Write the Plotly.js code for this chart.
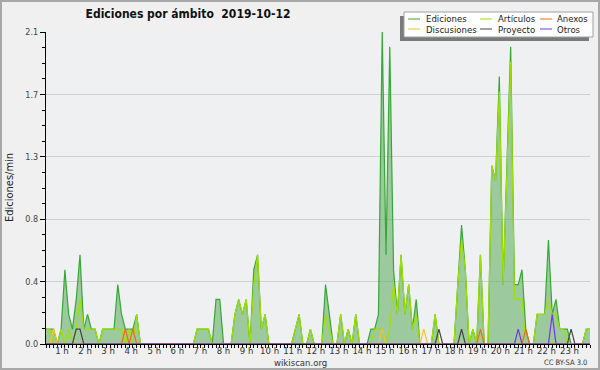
<!DOCTYPE html>
<html><head><meta charset="utf-8">
<script src="https://cdn.plot.ly/plotly-3.0.1.min.js"></script>
<style>html,body{margin:0;padding:0;background:#f0f0f0;}#chart{width:600px;height:370px;}</style>
</head><body><div id="chart"></div>
<script>
// 10-minute bins, values in edits per minute (00:00 .. 24:00)
const ediciones = [
  0.1,0.1,0.1,0,0.1,0.5,
  0.2,0.1,0.3,0.6,0.1,0.2,
  0.1,0.1,0,0.1,0.1,0.1,
  0.1,0.4,0.2,0.1,0.1,0.1,
  0.2,0,0,0,0,0,
  0,0,0,0,0,0,
  0,0,0,0,0.1,0.1,
  0.1,0.1,0,0.3,0.3,0,
  0,0,0.2,0.3,0.2,0.3,
  0,0.5,0.6,0.1,0.2,0,
  0,0,0,0,0,0,
  0.1,0.2,0,0,0.1,0,
  0,0,0.4,0.2,0,0,
  0.2,0,0.1,0,0.2,0,
  0,0,0.1,0.1,0.2,2.1,
  0.6,2.0,0.5,0.2,0.6,0.2,
  0.4,0.1,0.3,0,0,0,
  0,0.2,0,0,0,0,
  0,0.4,0.8,0.5,0,0.1,
  0,0.6,0,0,1.2,1.1,
  1.8,0.4,1.2,2.0,0.4,0.4,
  0.5,0.1,0,0,0.2,0.2,
  0.2,0.7,0.2,0.3,0.1,0.1,
  0.1,0,0,0,0,0.1,
  0.1,0.1
];
const articulos = [
  0.1,0.1,0,0,0.1,0,
  0.1,0,0.1,0.3,0.1,0.1,
  0.1,0.1,0,0.1,0.1,0.1,
  0.1,0.1,0.1,0,0.1,0,
  0.2,0,0,0,0,0,
  0,0,0,0,0,0,
  0,0,0,0,0.1,0.1,
  0.1,0.1,0,0,0,0,
  0,0,0.2,0.3,0.2,0.3,
  0,0.4,0.6,0.1,0.2,0,
  0,0,0,0,0,0,
  0.1,0.2,0,0,0.1,0,
  0,0,0.2,0.1,0,0,
  0.2,0,0.1,0,0.2,0,
  0,0,0,0.1,0.1,0.1,
  0,0.1,0.4,0.2,0.6,0.2,
  0.4,0.1,0.2,0,0,0,
  0,0.2,0,0,0,0,
  0,0.4,0.7,0.5,0,0.1,
  0,0.6,0,0,1.2,1.1,
  1.7,0.4,1.2,1.9,0.3,0.3,
  0.3,0,0,0,0.2,0.2,
  0.2,0.3,0.2,0.2,0.1,0.1,
  0,0,0,0,0,0.1,
  0.1,0.1
];
const anexos = [
  0,0,0,0,0,0, 0,0,0,0,0,0, 0,0,0,0,0,0, 0,0,0,0.1,0,0.1,
  0,0,0,0,0,0, 0,0,0,0,0,0, 0,0,0,0,0,0, 0,0,0,0,0,0,
  0,0,0,0,0,0, 0,0,0,0,0,0, 0,0,0,0,0,0, 0,0,0,0,0,0,
  0,0,0,0,0,0, 0,0,0,0,0,0, 0,0,0,0,0,0, 0,0,0,0,0,0,
  0,0,0,0,0,0, 0,0,0,0,0,0, 0,0,0,0,0,0, 0,0.1,0,0,0,0,
  0,0,0,0,0,0, 0,0.1,0,0,0,0, 0,0,0,0,0,0, 0,0,0,0,0,0,
  0
];
const discusiones = [
  0,0,0.1,0,0,0, 0,0,0,0,0,0, 0,0,0,0,0,0, 0,0,0,0,0,0,
  0,0,0,0,0,0, 0,0,0,0,0,0, 0,0,0,0,0,0, 0,0,0,0,0,0,
  0,0,0,0,0,0, 0,0,0,0,0,0, 0,0,0,0,0,0, 0,0,0,0,0,0,
  0,0,0,0,0,0, 0,0,0,0,0,0, 0,0,0,0,0,0.1, 0,0,0,0,0,0,
  0,0,0,0,0.1,0, 0,0,0,0,0,0, 0,0,0,0,0,0, 0,0,0,0,0,0,
  0,0,0,0,0,0, 0,0,0,0,0,0, 0,0,0,0,0,0, 0,0,0,0,0,0,
  0
];
const proyecto = [
  0,0,0,0,0,0, 0,0,0.1,0.1,0,0, 0,0,0,0,0,0, 0,0,0,0,0,0,
  0,0,0,0,0,0, 0,0,0,0,0,0, 0,0,0,0,0,0, 0,0,0,0,0,0,
  0,0,0,0,0,0, 0,0,0,0,0,0, 0,0,0,0,0,0, 0,0,0,0,0,0,
  0,0,0,0,0,0, 0,0,0,0,0,0, 0,0,0,0,0,0, 0,0,0,0,0,0,
  0,0,0,0,0,0, 0,0,0.1,0,0,0, 0,0,0.1,0,0,0, 0,0,0,0,0,0,
  0,0,0,0,0,0, 0,0,0,0,0,0, 0,0,0,0,0,0, 0,0.1,0,0,0,0,
  0
];
const otros = [
  0,0,0,0,0,0, 0,0,0,0,0,0, 0,0,0,0,0,0, 0,0,0,0,0,0,
  0,0,0,0,0,0, 0,0,0,0,0,0, 0,0,0,0,0,0, 0,0,0,0,0,0,
  0,0,0,0,0,0, 0,0,0,0,0,0, 0,0,0,0,0,0, 0,0,0,0,0,0,
  0,0,0,0,0,0, 0,0,0,0,0,0, 0,0,0,0,0,0, 0,0,0,0,0,0,
  0,0,0,0,0,0, 0,0,0,0,0,0, 0,0,0,0,0,0, 0,0,0,0,0,0,
  0,0,0,0,0,0.1, 0,0,0,0,0,0, 0,0,0.2,0,0,0, 0,0,0,0,0,0,
  0
];
const hourLabels = ['1 h','2 h','3 h','4 h','5 h','6 h','7 h','8 h','9 h','10 h','11 h','12 h',
  '13 h','14 h','15 h','16 h','17 h','18 h','19 h','20 h','21 h','22 h','23 h'];
const yTickVals = [0, 0.42, 0.84, 1.26, 1.68, 2.1];
const yTickText = ['0.0','0.4','0.8','1.3','1.7','2.1'];
const seriesNames = ['Ediciones','Artículos','Anexos','Discusiones','Proyecto','Otros'];
const seriesColors = ['#36a836','#9fe000','#f26a16','#f5c230','#444444','#7a33e6'];

const binsPerHour = 6;
const t = ediciones.map((_, i) => i / binsPerHour);
const FONT = 'DejaVu Sans Condensed, DejaVu Sans, sans-serif';

const L = 46, R = 590, T = 32, B = 344;
const px = x => (x - L) / (R - L);
const py = y => (B - y) / (B - T);

const all = [ediciones, articulos, anexos, discusiones, proyecto, otros];
const traces = all.map((vals, k) => ({
  type: 'scatter', mode: 'lines', x: t, y: vals, name: seriesNames[k],
  line: {color: seriesColors[k], width: 1.2},
  fill: k === 0 ? 'tozeroy' : 'none',
  fillcolor: k === 0 ? 'rgba(90,170,90,0.55)' : undefined,
  hoverinfo: 'skip'
}));

const tickVals = hourLabels.map((_, i) => -0.313 + 1.0178 * (i + 1));

const shapes = [
  {type:'rect', xref:'paper', yref:'paper', x0:px(1), x1:px(599), y0:py(1), y1:py(369),
   line:{color:'#a8a8a8', width:2}, fillcolor:'rgba(0,0,0,0)', layer:'above'},
  {type:'rect', xref:'paper', yref:'paper', x0:px(400), x1:px(589), y0:py(16), y1:py(41),
   line:{width:0}, fillcolor:'#7a7a7a', layer:'above'},
  {type:'rect', xref:'paper', yref:'paper', x0:px(404), x1:px(593), y0:py(12), y1:py(37),
   line:{color:'#a0a0a0', width:1}, fillcolor:'#ffffff', layer:'above'}
];
const annotations = [];
const legCols = [[408, 424], [480, 496], [540, 555]];
const legRows = [19, 29];
seriesNames.forEach((nm, k) => {
  const col = k % 3, row = Math.floor(k / 3);
  const [lx, tx] = legCols[col];
  const yy = legRows[row];
  shapes.push({type:'line', xref:'paper', yref:'paper', x0:px(lx), x1:px(lx + 12), y0:py(yy), y1:py(yy),
    line:{color: seriesColors[k], width: 1}, layer:'above'});
  annotations.push({xref:'paper', yref:'paper', x:px(tx), y:py(yy), xanchor:'left', yanchor:'middle',
    text: nm, showarrow:false, font:{family:FONT, size:9.5, color:'#222'}});
});
annotations.push({xref:'paper', yref:'paper', x:px(9), y:py(188), xanchor:'center', yanchor:'middle',
  text:'Ediciones/min', textangle:-90, showarrow:false, font:{family:FONT, size:11, color:'#222'}});
annotations.push({xref:'paper', yref:'paper', x:px(300), y:py(362), xanchor:'center', yanchor:'middle',
  text:'wikiscan.org', showarrow:false, font:{family:FONT, size:9.5, color:'#333'}});
annotations.push({xref:'paper', yref:'paper', x:px(589), y:py(362.5), xanchor:'right', yanchor:'middle',
  text:'CC BY-SA 3.0', showarrow:false, font:{family:FONT, size:7.5, color:'#333'}});

const layout = {
  width: 600, height: 370,
  margin: {l: L, r: 600 - R, t: T, b: 370 - B, pad: 0},
  paper_bgcolor: '#f0f0f0', plot_bgcolor: '#eff0f2',
  showlegend: false,
  title: {text: 'Ediciones por ámbito\u00a0\u00a02019-10-12', x: 188/600, xanchor: 'center', xref: 'container',
    y: 1 - 14/370, yanchor: 'middle', yref: 'container',
    font: {family: FONT, size: 12, weight: 'bold', color: '#111'}},
  xaxis: {range: [0, 24], tickmode: 'array', tickvals: tickVals, ticktext: hourLabels, ticks: '',
    ticklabelstandoff: -2,
    showgrid: false, zeroline: false, showline: true, linecolor: '#000', linewidth: 1,
    tickfont: {family: FONT, size: 9.5, color: '#333'},
    minor: {ticks: 'outside', ticklen: 3, dtick: 1/6, tick0: 0, tickcolor: '#000', tickwidth: 1, showgrid: false},
    fixedrange: true},
  yaxis: {range: [0, 2.1], tickmode: 'array', tickvals: yTickVals, ticktext: yTickText,
    ticks: 'outside', ticklen: 5, tickcolor: '#000', tickwidth: 1,
    showgrid: true, gridcolor: '#d0d0d0', gridwidth: 1, zeroline: false,
    showline: true, linecolor: '#000', linewidth: 1,
    tickfont: {family: FONT, size: 9, color: '#444'},
    minor: {ticks: 'outside', ticklen: 3, dtick: 0.105, tick0: 0, tickcolor: '#000', tickwidth: 1, showgrid: false},
    fixedrange: true},
  shapes, annotations
};
Plotly.newPlot('chart', traces, layout, {staticPlot: true, displayModeBar: false});
</script></body></html>
